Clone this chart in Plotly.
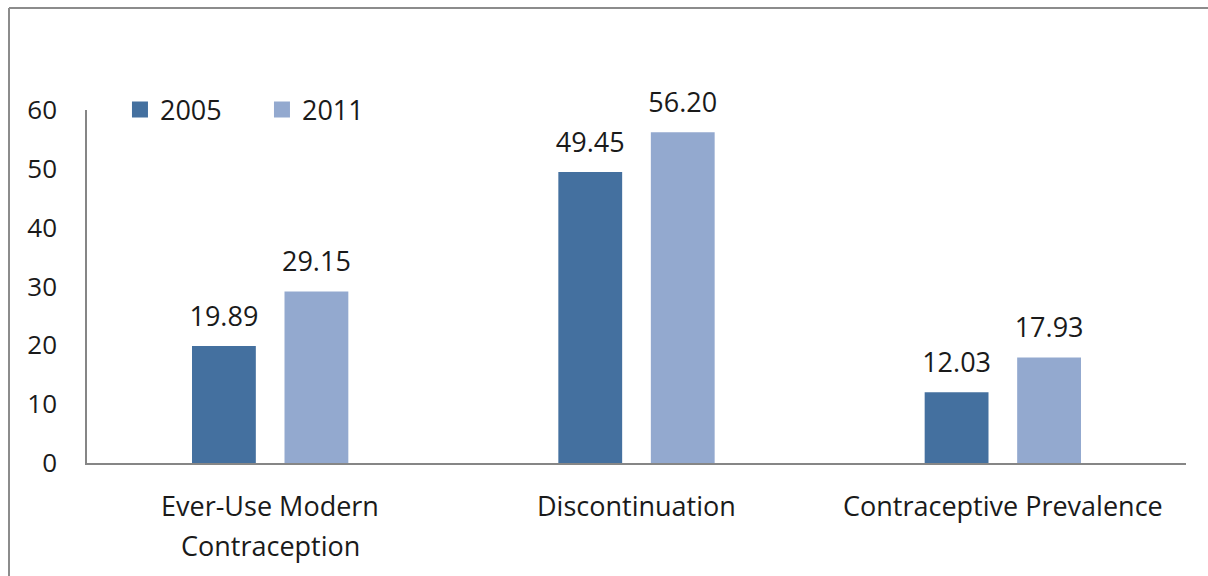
import plotly.graph_objects as go

categories = ["Ever-Use Modern Contraception", "Discontinuation", "Contraceptive Prevalence"]
label_lines = [["Ever-Use Modern", "Contraception"], ["Discontinuation"], ["Contraceptive Prevalence"]]
years = ["2005", "2011"]
values_2005 = [19.89, 49.45, 12.03]
values_2011 = [29.15, 56.20, 17.93]
colors = ["#44709F", "#93A9CF"]
y_ticks = [0, 10, 20, 30, 40, 50, 60]

FONT = "Open Sans"
FS = 27
TXT = "#1a1a1a"
W, H = 1208, 576
ML, MR, MT, MB = 87, 22, 110, 113

fig = go.Figure()
for name, vals, col in zip(years, [values_2005, values_2011], colors):
    fig.add_trace(go.Bar(
        name=name, x=categories, y=vals, marker=dict(color=col, line=dict(width=0)),
        texttemplate="<span style='font-size:%dpx'>%%{y:.2f}</span><br> " % FS,
        textposition="outside", cliponaxis=False, constraintext="none",
        textfont=dict(family=FONT, size=11, color=TXT),
        showlegend=False,
    ))
    fig.add_trace(go.Scatter(
        name=name, x=[None], y=[None], mode="markers",
        marker=dict(symbol="square", size=16, color=col), showlegend=True,
    ))

annotations = []
for cat, lines in zip(categories, label_lines):
    for i, ln in enumerate(lines):
        annotations.append(dict(
            x=cat, y=0, xref="x", yref="y", text=ln, showarrow=False,
            yanchor="middle", xanchor="center", yshift=-(42 + 40 * i),
            font=dict(family=FONT, size=FS, color=TXT),
        ))

pw = W - ML - MR
ph = H - MT - MB
def px_x(p):
    return (p - ML) / pw
def px_y(p):
    return (H - MB - p) / ph

shapes = [
    dict(type="line", xref="paper", yref="paper", x0=px_x(9), x1=px_x(9), y0=px_y(8), y1=px_y(H + 5),
         line=dict(color="#8C8C8C", width=2)),
    dict(type="line", xref="paper", yref="paper", x0=px_x(9), x1=px_x(W + 5), y0=px_y(8), y1=px_y(8),
         line=dict(color="#8C8C8C", width=2)),
]

fig.update_layout(
    width=W, height=H,
    margin=dict(l=ML, r=MR, t=MT, b=MB),
    paper_bgcolor="white", plot_bgcolor="white",
    barmode="group", bargap=0.495, bargroupgap=0.31,
    font=dict(family=FONT, size=FS, color=TXT),
    showlegend=True,
    legend=dict(orientation="h", x=0.03, y=1.0, xanchor="left", yanchor="middle",
                font=dict(family=FONT, size=FS, color=TXT), itemwidth=30,
                entrywidth=97, entrywidthmode="pixels", bgcolor="rgba(0,0,0,0)"),
    xaxis=dict(showticklabels=False, ticks="", showline=True, linecolor="#868686", linewidth=1.5,
               showgrid=False, zeroline=False, range=[-0.5, 2.5]),
    yaxis=dict(range=[0, 60], tickvals=y_ticks, ticks="", showline=True, linecolor="#868686",
               linewidth=1.5, showgrid=False, zeroline=False, ticklabelstandoff=23,
               tickfont=dict(family=FONT, size=26, color=TXT)),
    annotations=annotations, shapes=shapes,
)

fig.write_html("out.html")
